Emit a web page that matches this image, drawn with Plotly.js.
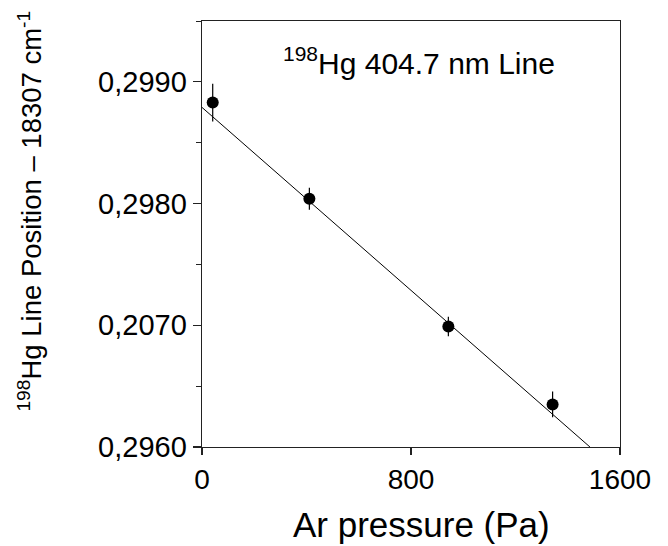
<!DOCTYPE html>
<html>
<head>
<meta charset="utf-8">
<script src="https://cdn.plot.ly/plotly-3.0.1.min.js"></script>
<style>html,body{margin:0;padding:0;background:#fff;}#chart{width:668px;height:546px;}</style>
</head>
<body>
<div id="chart"></div>
<script>
// Data
var pressure = [41, 411, 943, 1342];                    // Ar pressure (Pa)
var position = [0.29883, 0.29804, 0.29699, 0.29635];    // line position - 18307 cm^-1
var posError = [0.000155, 0.00009, 0.00008, 0.000105];  // error bars
var fitX = [0, 1485];
var fitY = [0.29879, 0.2960];
var yTickVals = [0.2960, 0.2970, 0.2980, 0.2990];
var yTickText = ['0,2960', '0,2070', '0,2980', '0,2990'];
var xTickVals = [0, 800, 1600];
var xTickText = ['0', '800', '1600'];

var FONT = 'Arial, "Liberation Sans", Helvetica, sans-serif';

var traces = [
  {
    x: fitX, y: fitY, type: 'scatter', mode: 'lines',
    line: {color: '#000', width: 1}, hoverinfo: 'skip', showlegend: false
  },
  {
    x: pressure, y: position, type: 'scatter', mode: 'markers',
    marker: {color: '#000', size: 12, symbol: 'circle'},
    error_y: {type: 'data', array: posError, visible: true, color: '#000', thickness: 1.2, width: 0},
    showlegend: false
  }
];

var layout = {
  width: 668, height: 546,
  margin: {l: 202, r: 48, t: 21, b: 99},
  paper_bgcolor: '#fff', plot_bgcolor: '#fff',
  showlegend: false,
  font: {family: FONT, color: '#000'},
  xaxis: {
    range: [0, 1600], tickmode: 'array', tickvals: xTickVals, ticktext: xTickText,
    ticks: 'outside', ticklen: 7, tickwidth: 1.2, tickcolor: '#222',
    showline: true, linecolor: '#222', linewidth: 1.4, mirror: true,
    showgrid: false, zeroline: false,
    tickfont: {family: FONT, size: 28, color: '#000'}
  },
  yaxis: {
    range: [0.2960, 0.2995], tickmode: 'array', tickvals: yTickVals, ticktext: yTickText,
    ticks: 'outside', ticklen: 8, tickwidth: 1.2, tickcolor: '#222',
    minor: {tickmode: 'linear', tick0: 0.2960, dtick: 0.0005, ticks: 'outside', ticklen: 5, tickwidth: 1, tickcolor: '#222'},
    showline: true, linecolor: '#222', linewidth: 1.4, mirror: true,
    showgrid: false, zeroline: false,
    tickfont: {family: FONT, size: 29, color: '#000'}
  },
  annotations: [
    {
      xref: 'paper', yref: 'paper', x: 0.52, y: 0.905, xanchor: 'center', yanchor: 'middle',
      text: '<sup>198</sup>Hg 404.7 nm Line', showarrow: false,
      font: {family: FONT, size: 30, color: '#000'}
    },
    {
      xref: 'paper', yref: 'paper', x: -0.41, y: 0.554, xanchor: 'center', yanchor: 'middle',
      textangle: -90,
      text: '<sup>198</sup>Hg Line Position \u2013 18307 cm<sup>-1</sup>', showarrow: false,
      font: {family: FONT, size: 27.5, color: '#000'}
    },
    {
      xref: 'paper', yref: 'paper', x: 0.526, y: -0.2275, xanchor: 'center', yanchor: 'bottom',
      text: 'Ar pressure (Pa)', showarrow: false, borderpad: 0, borderwidth: 0,
      font: {family: FONT, size: 35, color: '#000'}
    }
  ]
};

Plotly.newPlot('chart', traces, layout, {displayModeBar: false, staticPlot: true});
</script>
</body>
</html>
